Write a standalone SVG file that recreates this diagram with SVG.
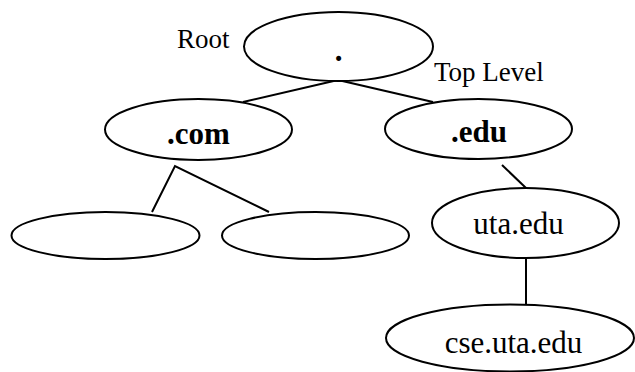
<svg xmlns="http://www.w3.org/2000/svg" width="635" height="372" viewBox="0 0 635 372">
<style>
.n{fill:#fff;stroke:#000;stroke-width:2}
.c{stroke:#000;stroke-width:2;fill:none}
.t{font-family:"Liberation Serif","Times New Roman",serif;font-size:31px;fill:#000;text-anchor:middle}
.b{font-weight:bold}
.l{font-family:"Liberation Serif","Times New Roman",serif;font-size:27px;fill:#000}
</style>
<rect width="635" height="372" fill="#fff"/>
<g id="connectors">
<line class="c" x1="338" y1="80" x2="243" y2="102"/>
<line class="c" x1="338" y1="80" x2="433" y2="102"/>
<polyline class="c" points="152,212 175,166 269,212"/>
<line class="c" x1="502" y1="165" x2="526" y2="188"/>
<line class="c" x1="526" y1="258" x2="526" y2="305"/>
</g>
<g id="root">
<ellipse class="n" cx="338.5" cy="46.5" rx="94.5" ry="34.5"/>
<text class="t b" x="338.5" y="61">.</text>
</g>
<g id="label-root"><text class="l" x="177" y="48">Root</text></g>
<g id="label-top"><text class="l" x="434" y="81">Top Level</text></g>
<g id="com">
<ellipse class="n" cx="198.5" cy="129.5" rx="93.5" ry="30.5"/>
<text class="t b" x="198.5" y="144">.com</text>
</g>
<g id="edu">
<ellipse class="n" cx="478.5" cy="129" rx="93.5" ry="30"/>
<text class="t b" x="479" y="142">.edu</text>
</g>
<g id="com-child-1">
<ellipse class="n" cx="105.5" cy="235.5" rx="94" ry="23.5"/>
</g>
<g id="com-child-2">
<ellipse class="n" cx="315.5" cy="235.5" rx="93.5" ry="23.5"/>
</g>
<g id="uta">
<ellipse class="n" cx="525.5" cy="223" rx="93.5" ry="35"/>
<text class="t" x="518.5" y="234">uta.edu</text>
</g>
<g id="cse">
<ellipse class="n" cx="510" cy="338" rx="124" ry="33.5"/>
<text class="t" x="513.5" y="353">cse.uta.edu</text>
</g>
</svg>
